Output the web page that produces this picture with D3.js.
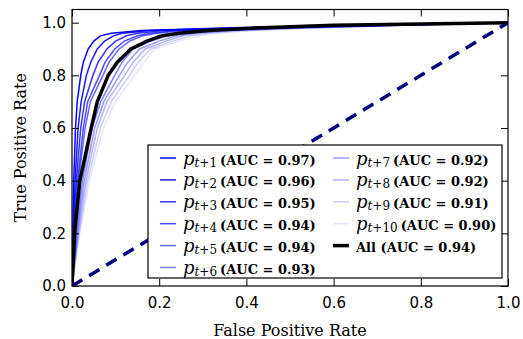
<!DOCTYPE html>
<html>
<head>
<meta charset="utf-8">
<script src="https://cdn.jsdelivr.net/npm/d3@7"></script>
<style>
  body { margin: 0; background: #fff; }
</style>
</head>
<body>
<div id="chart"></div>
<script>
// shared TPR levels, each series gives the FPR where it reaches that level
const tprLevels = [0, 0.2, 0.4, 0.6, 0.7, 0.8, 0.85, 0.9, 0.93, 0.95, 0.96, 0.97, 0.98, 0.99, 1.0];

const fprP1  = [0, 0.002, 0.004, 0.008, 0.012, 0.020, 0.026, 0.037, 0.050, 0.065, 0.090, 0.16, 0.35, 0.65, 1.0];
const fprP2  = [0, 0.003, 0.007, 0.014, 0.021, 0.033, 0.043, 0.058, 0.075, 0.095, 0.115, 0.18, 0.37, 0.67, 1.0];
const fprP3  = [0, 0.004, 0.010, 0.020, 0.029, 0.048, 0.060, 0.080, 0.100, 0.125, 0.150, 0.21, 0.39, 0.69, 1.0];
const fprP4  = [0, 0.005, 0.013, 0.026, 0.036, 0.063, 0.076, 0.098, 0.120, 0.150, 0.180, 0.24, 0.42, 0.71, 1.0];
const fprP5  = [0, 0.006, 0.015, 0.030, 0.042, 0.071, 0.085, 0.108, 0.132, 0.162, 0.195, 0.26, 0.44, 0.72, 1.0];
const fprP6  = [0, 0.010, 0.024, 0.046, 0.066, 0.098, 0.115, 0.140, 0.180, 0.220, 0.255, 0.33, 0.48, 0.74, 1.0];
const fprP7  = [0, 0.012, 0.028, 0.052, 0.073, 0.109, 0.128, 0.155, 0.200, 0.240, 0.275, 0.35, 0.50, 0.75, 1.0];
const fprP8  = [0, 0.014, 0.032, 0.058, 0.080, 0.121, 0.140, 0.168, 0.215, 0.255, 0.290, 0.37, 0.52, 0.76, 1.0];
const fprP9  = [0, 0.016, 0.036, 0.065, 0.090, 0.132, 0.152, 0.180, 0.230, 0.275, 0.310, 0.39, 0.54, 0.77, 1.0];
const fprP10 = [0, 0.018, 0.040, 0.072, 0.100, 0.144, 0.165, 0.190, 0.245, 0.295, 0.335, 0.42, 0.56, 0.78, 1.0];
const fprAll = [0, 0.006, 0.018, 0.044, 0.058, 0.083, 0.104, 0.135, 0.172, 0.205, 0.245, 0.31, 0.42, 0.60, 1.0];

const horizons = ['t+1', 't+2', 't+3', 't+4', 't+5', 't+6', 't+7', 't+8', 't+9', 't+10'];
const aucValues = [0.97, 0.96, 0.95, 0.94, 0.94, 0.93, 0.92, 0.92, 0.91, 0.90];
const aucAll = 0.94;
const seriesFpr = [fprP1, fprP2, fprP3, fprP4, fprP5, fprP6, fprP7, fprP8, fprP9, fprP10];
const seriesAlpha = [1.0, 0.9, 0.8, 0.7, 0.6, 0.5, 0.4, 0.3, 0.2, 0.1];

const xTicks = [0, 0.2, 0.4, 0.6, 0.8, 1.0];
const yTicks = [0, 0.2, 0.4, 0.6, 0.8, 1.0];

const W = 523, H = 339;
const plotLeft = 72, plotRight = 508, plotTop = 9.5, plotBottom = 286;

const svg = d3.select('#chart').append('svg')
  .attr('width', W).attr('height', H);

const x = d3.scaleLinear().domain([0, 1]).range([plotLeft, plotRight]);
const y = d3.scaleLinear().domain([0, 1.05]).range([plotBottom, plotTop]);

svg.append('clipPath').attr('id', 'plot-clip')
  .append('rect')
  .attr('x', plotLeft).attr('y', plotTop)
  .attr('width', plotRight - plotLeft).attr('height', plotBottom - plotTop);

const plot = svg.append('g').attr('clip-path', 'url(#plot-clip)');

const line = d3.line()
  .x(d => x(d[0]))
  .y(d => y(d[1]));

// per-horizon curves
seriesFpr.forEach((fpr, i) => {
  plot.append('path')
    .datum(fpr.map((f, k) => [f, tprLevels[k]]))
    .attr('fill', 'none')
    .attr('stroke', 'blue')
    .attr('stroke-opacity', seriesAlpha[i])
    .attr('stroke-width', 1.5)
    .attr('d', line);
});

// pooled curve
plot.append('path')
  .datum(fprAll.map((f, k) => [f, tprLevels[k]]))
  .attr('fill', 'none')
  .attr('stroke', '#000')
  .attr('stroke-width', 3.5)
  .attr('d', line);

// chance line
plot.append('path')
  .datum([[0, 0], [1, 1]])
  .attr('fill', 'none')
  .attr('stroke', '#000080')
  .attr('stroke-width', 3.5)
  .attr('stroke-dasharray', '12,8')
  .attr('d', line);

// axes, ticks pointing inward on all four sides
const tickLen = 7;
const styleAxis = g => {
  g.select('.domain').remove();
  g.selectAll('.tick line').attr('stroke', '#000').attr('stroke-width', 1);
  g.selectAll('.tick text')
    .attr('fill', '#000')
    .style('font-family', '"DejaVu Sans", sans-serif')
    .style('font-size', '15px');
};

svg.append('g')
  .attr('transform', `translate(0,${plotBottom})`)
  .call(d3.axisBottom(x).tickValues(xTicks).tickFormat(d3.format('.1f'))
    .tickSizeInner(-tickLen).tickSizeOuter(0).tickPadding(11))
  .call(styleAxis);

svg.append('g')
  .attr('transform', `translate(0,${plotTop})`)
  .call(d3.axisTop(x).tickValues(xTicks).tickFormat('')
    .tickSizeInner(-tickLen).tickSizeOuter(0))
  .call(styleAxis);

svg.append('g')
  .attr('transform', `translate(${plotLeft},0)`)
  .call(d3.axisLeft(y).tickValues(yTicks).tickFormat(d3.format('.1f'))
    .tickSizeInner(-tickLen).tickSizeOuter(0).tickPadding(6))
  .call(styleAxis);

svg.append('g')
  .attr('transform', `translate(${plotRight},0)`)
  .call(d3.axisRight(y).tickValues(yTicks).tickFormat('')
    .tickSizeInner(-tickLen).tickSizeOuter(0))
  .call(styleAxis);

// frame
svg.append('rect')
  .attr('x', plotLeft).attr('y', plotTop)
  .attr('width', plotRight - plotLeft).attr('height', plotBottom - plotTop)
  .attr('fill', 'none')
  .attr('stroke', '#000')
  .attr('stroke-width', 1.2);

// axis labels
svg.append('text')
  .attr('text-anchor', 'middle')
  .attr('x', (plotLeft + plotRight) / 2)
  .attr('y', 336)
  .style('font-family', '"DejaVu Serif", serif')
  .style('font-size', '16px')
  .attr('fill', '#000')
  .text('False Positive Rate');

svg.append('text')
  .attr('text-anchor', 'middle')
  .attr('transform', `translate(26,${(plotTop + plotBottom) / 2}) rotate(-90)`)
  .style('font-family', '"DejaVu Serif", serif')
  .style('font-size', '16px')
  .attr('fill', '#000')
  .text('True Positive Rate');

// legend
const legend = svg.append('g');
legend.append('rect')
  .attr('x', 148).attr('y', 145)
  .attr('width', 354).attr('height', 133)
  .attr('fill', '#fff')
  .attr('stroke', '#000')
  .attr('stroke-width', 1.2);

const rowY = i => 158 + i * 21.9;
const entries = horizons.map((h, i) => ({
  sub: h, auc: aucValues[i], alpha: seriesAlpha[i], color: 'blue', width: 1.5,
  col: i < 6 ? 0 : 1, row: i < 6 ? i : i - 6
}));
entries.push({ sub: null, auc: aucAll, alpha: 1, color: '#000', width: 3.5, col: 1, row: 4 });

const colX = [160, 333];

entries.forEach(e => {
  const lx = colX[e.col];
  const ly = rowY(e.row);
  legend.append('line')
    .attr('x1', lx).attr('x2', lx + 16)
    .attr('y1', ly).attr('y2', ly)
    .attr('stroke', e.color)
    .attr('stroke-opacity', e.alpha)
    .attr('stroke-width', e.width);

  const t = legend.append('text')
    .attr('x', lx + 23)
    .attr('y', ly + 6.5)
    .attr('fill', '#000');
  if (e.sub) {
    t.append('tspan')
      .style('font-family', '"DejaVu Serif", serif')
      .style('font-style', 'italic')
      .style('font-size', '18px')
      .text('p');
    t.append('tspan')
      .attr('dy', 2)
      .style('font-family', '"DejaVu Serif", serif')
      .style('font-style', 'italic')
      .style('font-size', '12px')
      .text('t');
    t.append('tspan')
      .style('font-family', '"DejaVu Serif", serif')
      .style('font-size', '12px')
      .text(e.sub.slice(1));
    t.append('tspan')
      .attr('dy', -2)
      .attr('dx', 3)
      .style('font-family', '"DejaVu Serif", serif')
      .style('font-weight', 'bold')
      .style('font-size', '13px')
      .text(`(AUC = ${e.auc.toFixed(2)})`);
  } else {
    t.append('tspan')
      .style('font-family', '"DejaVu Serif", serif')
      .style('font-weight', 'bold')
      .style('font-size', '13px')
      .text(`All (AUC = ${e.auc.toFixed(2)})`);
  }
});
</script>
</body>
</html>
